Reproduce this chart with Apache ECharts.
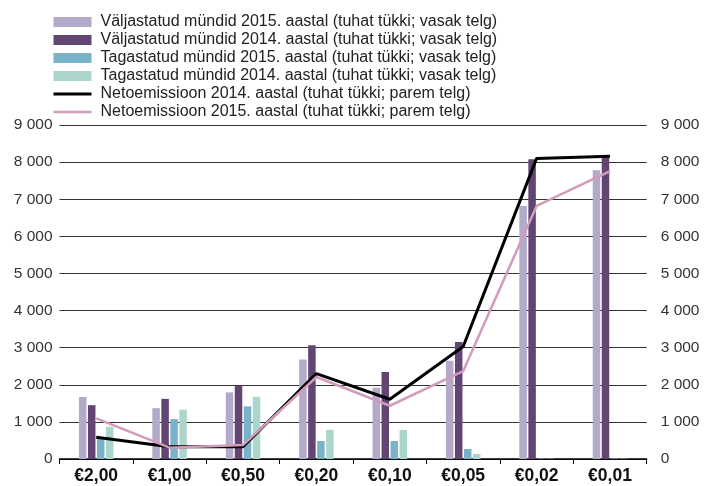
<!DOCTYPE html>
<html>
<head>
<meta charset="utf-8">
<script src="https://cdn.jsdelivr.net/npm/echarts@6/dist/echarts.min.js"></script>
<style>
html,body{margin:0;padding:0;background:#fff;}
#chart{width:704px;height:486px;}
</style>
</head>
<body>
<div id="chart"></div>
<script>
var categories = ['€2,00', '€1,00', '€0,50', '€0,20', '€0,10', '€0,05', '€0,02', '€0,01'];
var issued2015 = [1670, 1370, 1795, 2680, 1920, 2645, 6815, 7780];
var issued2014 = [1450, 1620, 1975, 3065, 2345, 3150, 8080, 8135];
var returned2015 = [560, 1075, 1420, 485, 485, 270, 15, 15];
var returned2014 = [870, 1330, 1675, 785, 785, 135, 10, 10];
var net2014 = [585, 330, 330, 2300, 1610, 3030, 8100, 8160];
var net2015 = [1095, 305, 375, 2210, 1435, 2370, 6820, 7760];
var seriesNames = [
  'Väljastatud mündid 2015. aastal (tuhat tükki; vasak telg)',
  'Väljastatud mündid 2014. aastal (tuhat tükki; vasak telg)',
  'Tagastatud mündid 2015. aastal (tuhat tükki; vasak telg)',
  'Tagastatud mündid 2014. aastal (tuhat tükki; vasak telg)',
  'Netoemissioon 2014. aastal (tuhat tükki; parem telg)',
  'Netoemissioon 2015. aastal (tuhat tükki; parem telg)'
];
var colors = ['#b3a9c9', '#624573', '#79b3c9', '#acd6cc', '#000000', '#d19bbc'];

var FONT = '"Liberation Sans", Arial, sans-serif';
function fmt(v) { return String(v).replace(/\B(?=(\d{3})+(?!\d))/g, ' '); }

var chart = echarts.init(document.getElementById('chart'), null, {renderer: 'canvas'});
function bar(i, data) {
  return {
    name: seriesNames[i], type: 'bar', yAxisIndex: 0, data: data,
    barWidth: 7.5, barGap: '20%',
    itemStyle: {color: colors[i]}, z: 2, animation: false
  };
}
function line(i, data, w) {
  return {
    name: seriesNames[i], type: 'line', yAxisIndex: 1, data: data,
    symbol: 'none', lineStyle: {color: colors[i], width: w}, itemStyle: {color: colors[i]},
    z: 5, animation: false
  };
}
chart.setOption({
  animation: false,
  textStyle: {fontFamily: FONT},
  grid: {left: 59.5, right: 57.3, top: 125, bottom: 27},
  legend: {
    orient: 'vertical', left: 48.5, top: 9,
    itemWidth: 38, itemHeight: 10, itemGap: 2, symbolKeepAspect: true,
    textStyle: {fontFamily: FONT, fontSize: 16, color: '#222', padding: [0, 0, 0, 4]},
    data: seriesNames.map(function (n, i) {
      if (i < 4) return {name: n, icon: 'rect'};
      if (i === 4) return {name: n, icon: 'path://M0 0H38V3H0Z'};
      return {name: n, icon: 'path://M0 0H38V2.5H0Z'};
    })
  },
  xAxis: {
    type: 'category', data: categories, boundaryGap: true,
    axisLine: {lineStyle: {color: '#000', width: 1.5}},
    axisTick: {show: true, length: 5, lineStyle: {color: '#000', width: 1}},
    axisLabel: {fontFamily: FONT, fontSize: 17.5, fontWeight: 'bold', color: '#111', margin: 8}
  },
  yAxis: [
    {
      type: 'value', min: 0, max: 9000, interval: 1000,
      axisLine: {show: false}, axisTick: {show: false},
      splitLine: {show: true, lineStyle: {color: '#333', width: 1}},
      axisLabel: {fontFamily: FONT, fontSize: 15.5, color: '#333', margin: 7, formatter: fmt}
    },
    {
      type: 'value', min: 0, max: 9000, interval: 1000,
      axisLine: {show: false}, axisTick: {show: false}, splitLine: {show: false},
      axisLabel: {fontFamily: FONT, fontSize: 15.5, color: '#333', margin: 14, formatter: fmt}
    }
  ],
  series: [
    bar(0, issued2015), bar(1, issued2014), bar(2, returned2015), bar(3, returned2014),
    line(4, net2014, 3), line(5, net2015, 2.5)
  ]
});
</script>
</body>
</html>
